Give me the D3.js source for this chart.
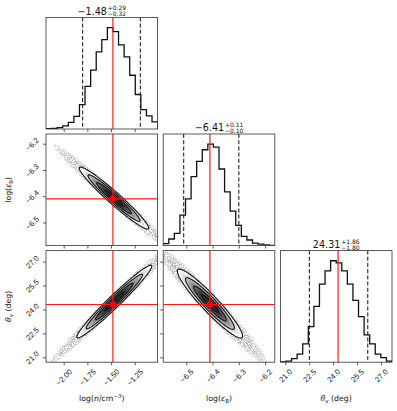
<!DOCTYPE html>
<html><head><meta charset="utf-8">
<script src="https://cdn.jsdelivr.net/npm/d3@7"></script>
<style>
html,body{margin:0;padding:0;background:#fff;}
svg{display:block;font-family:"DejaVu Sans",sans-serif;}
</style></head><body>
<svg id="chart" width="397" height="411"></svg>
<script>
// ---------------- data ----------------
const paramNames = ["logn", "logeps", "theta"];
const axisRanges = [[-2.187, -1.008], [-6.588, -6.163], [20.693, 27.69]];
const tickValues = [[-2.00, -1.75, -1.50, -1.25], [-6.5, -6.4, -6.3, -6.2], [21.0, 22.5, 24.0, 25.5, 27.0]];
const tickLabels = [["−2.00", "−1.75", "−1.50", "−1.25"], ["−6.5", "−6.4", "−6.3", "−6.2"], ["21.0", "22.5", "24.0", "25.5", "27.0"]];
const histLogN   = [0.003, 0.006, 0.013, 0.03, 0.065, 0.125, 0.24, 0.42, 0.58, 0.76, 0.88, 1.0, 0.96, 0.83, 0.71, 0.53, 0.34, 0.19, 0.13, 0.07];
const histLogEps = [0.02, 0.065, 0.12, 0.3, 0.46, 0.68, 0.83, 0.945, 1.0, 0.97, 0.755, 0.53, 0.34, 0.2, 0.09, 0.055, 0.025, 0.015, 0.008, 0.003];
const histTheta  = [0.003, 0.01, 0.035, 0.08, 0.18, 0.35, 0.55, 0.77, 0.9, 1.0, 0.98, 0.9, 0.77, 0.61, 0.45, 0.27, 0.18, 0.08, 0.045, 0.01];
const medianLabels = ["−1.48", "−6.41", "24.31"];
const errPlus  = ["+0.29", "+0.11", "+1.86"];
const errMinus = ["−0.32", "−0.10", "−1.80"];
const truths = [-1.48, -6.41, 24.31];
const q16 = [-1.80, -6.51, 22.51];
const q84 = [-1.19, -6.30, 26.17];
// 2D panels (row param, column param)
const pairRows = [1, 2, 2];
const pairCols = [0, 0, 1];
const pairCenterX = [-1.469, -1.465, -6.410];
const pairCenterY = [-6.407, 24.50, 24.37];
const pairScaleX = [0.183, 0.198, 0.062];
const pairScaleY = [0.059, 1.14, 1.08];
const pairCorr = [-0.966, 0.974, -0.94];
const pairHaloCorr = [-0.985, 0.988, -0.972];
const contourLevels = [0.5, 1.0, 1.5, 2.0];
const haloLevels = [3.5, 3.0, 2.5];

// ---------------- layout ----------------
const svg = d3.select("#chart");
const colX = [46, 163.2, 280.4];
const rowY = [17.4, 134, 250.6];
const P = 111.6;
const spine = "#333";
const tickFont = 7.6;
const hists = [histLogN, histLogEps, histTheta];

const xS = axisRanges.map((r, i) => d3.scaleLinear().domain(r).range([colX[i], colX[i] + P]));
const yS = axisRanges.map((r, i) => d3.scaleLinear().domain(r).range([rowY[i] + P, rowY[i]]));

const defs = svg.append("defs");
const flt = defs.append("filter").attr("id", "speckle").attr("x", "-10%").attr("y", "-10%").attr("width", "120%").attr("height", "120%");
flt.append("feTurbulence").attr("type", "fractalNoise").attr("baseFrequency", 0.9).attr("numOctaves", 2).attr("seed", 5).attr("result", "n");
flt.append("feColorMatrix").attr("in", "n").attr("type", "matrix")
  .attr("values", "0 0 0 0 0.42  0 0 0 0 0.42  0 0 0 0 0.42  0 0 0 7 -2.8").attr("result", "dots");
flt.append("feComposite").attr("in", "dots").attr("in2", "SourceGraphic").attr("operator", "in");

function clipFor(id, x, y) {
  defs.append("clipPath").attr("id", id).append("rect").attr("x", x).attr("y", y).attr("width", P).attr("height", P);
  return "url(#" + id + ")";
}

function styleAxis(g) {
  g.select(".domain").remove();
  g.selectAll(".tick line").attr("stroke", spine).attr("stroke-width", 0.8);
  g.selectAll(".tick text").attr("fill", "#111").attr("font-size", tickFont);
}
function rotateXLabels(g) {
  g.selectAll(".tick text").each(function () {
    const t = d3.select(this);
    const w = this.getComputedTextLength();
    const b = (w + tickFont) / Math.SQRT2;
    t.attr("x", 0).attr("y", 0).attr("dy", null).attr("text-anchor", "middle")
     .attr("dominant-baseline", "central")
     .attr("transform", `translate(0,${3 + 2.7 + b / 2}) rotate(-45)`);
  });
}
function rotateYLabels(g) {
  g.selectAll(".tick text").each(function () {
    const t = d3.select(this);
    const w = this.getComputedTextLength();
    const b = (w + tickFont) / Math.SQRT2;
    t.attr("x", 0).attr("y", 0).attr("dy", null).attr("text-anchor", "middle")
     .attr("dominant-baseline", "central")
     .attr("transform", `translate(${-(3 + 2.7 + b / 2)},0) rotate(-45)`);
  });
}

// ---------------- diagonal histograms ----------------
for (let i = 0; i < 3; i++) {
  const xs = xS[i];
  const h = hists[i];
  const [lo, hi] = axisRanges[i];
  const edges = d3.range(h.length + 1).map(k => lo + k * (hi - lo) / h.length);
  const ys = d3.scaleLinear().domain([0, 1.1 * d3.max(h)]).range([rowY[i] + P, rowY[i]]);
  const g = svg.append("g").attr("clip-path", clipFor("ch" + i, colX[i], rowY[i]));
  const pts = [[edges[0], 0]];
  h.forEach((v, k) => { pts.push([edges[k], v]); pts.push([edges[k + 1], v]); });
  pts.push([edges[h.length], 0]);
  g.append("path").attr("d", d3.line().x(d => xs(d[0])).y(d => ys(d[1]))(pts))
    .attr("fill", "none").attr("stroke", "#111").attr("stroke-width", 1.3);
  [q16[i], q84[i]].forEach(q => {
    g.append("line").attr("x1", xs(q)).attr("x2", xs(q)).attr("y1", rowY[i]).attr("y2", rowY[i] + P)
      .attr("stroke", "#222").attr("stroke-width", 1.1).attr("stroke-dasharray", "4,2.2");
  });
  g.append("line").attr("x1", xs(truths[i])).attr("x2", xs(truths[i])).attr("y1", rowY[i]).attr("y2", rowY[i] + P)
    .attr("stroke", "#ff1a1a").attr("stroke-width", 1.2);
  svg.append("rect").attr("x", colX[i]).attr("y", rowY[i]).attr("width", P).attr("height", P)
    .attr("fill", "none").attr("stroke", spine).attr("stroke-width", 0.8);
  const ax = svg.append("g").attr("transform", `translate(0,${rowY[i] + P})`)
    .call(d3.axisBottom(xs).tickValues(tickValues[i]).tickSize(3).tickPadding(2.7)
      .tickFormat((d, k) => i === 2 ? tickLabels[i][k] : ""));
  styleAxis(ax);
  if (i === 2) rotateXLabels(ax);

  // title
  const tg = svg.append("g");
  const base = rowY[i] - 2.6;
  const main = tg.append("text").attr("x", 0).attr("y", base).attr("font-size", 9.6).attr("fill", "#111").text(medianLabels[i]);
  const mw = main.node().getComputedTextLength();
  const sup = tg.append("text").attr("x", mw + 0.8).attr("y", base - 4.4).attr("font-size", 6.0).attr("fill", "#111").text(errPlus[i]);
  const sub = tg.append("text").attr("x", mw + 0.8).attr("y", base + 1.6).attr("font-size", 6.0).attr("fill", "#111").text(errMinus[i]);
  const sw = Math.max(sup.node().getComputedTextLength(), sub.node().getComputedTextLength());
  tg.attr("transform", `translate(${colX[i] + P / 2 - (mw + 0.8 + sw) / 2},0)`);
}

// ---------------- 2D panels ----------------
function ellipse(k, r, rho) {
  const s = Math.sqrt(1 - rho * rho);
  return d3.range(0, 120).map(n => {
    const t = n / 120 * 2 * Math.PI;
    return [pairCenterX[k] + r * pairScaleX[k] * Math.cos(t),
            pairCenterY[k] + r * pairScaleY[k] * (rho * Math.cos(t) + s * Math.sin(t))];
  });
}
function shade(r) {
  const d = Math.exp(-0.5 * r * r), v = (1 - d) / (1 - Math.exp(-2));
  const g = Math.max(0.18, Math.min(1, v * 1.02));
  const c = Math.round(g * 255);
  return `rgb(${c},${c},${c})`;
}
for (let k = 0; k < 3; k++) {
  const r = pairRows[k], c = pairCols[k];
  const xs = xS[c], ys = yS[r];
  const line = d3.line().x(d => xs(d[0])).y(d => ys(d[1])).curve(d3.curveLinearClosed);
  const g = svg.append("g").attr("clip-path", clipFor("cp" + k, colX[c], rowY[r]));
  // scattered samples beyond the outer contour
  const hg = g.append("g").attr("filter", "url(#speckle)");
  haloLevels.forEach(lv => hg.append("path").attr("d", line(ellipse(k, lv, pairHaloCorr[k]))).attr("fill", "#000").attr("fill-opacity", 0.5));
  // density shading
  const rings = d3.range(2.0, 0.05, -0.125);
  rings.forEach(rr => g.append("path").attr("d", line(ellipse(k, rr, pairCorr[k]))).attr("fill", shade(rr - 0.0625)));
  // contours
  contourLevels.forEach(lv => g.append("path").attr("d", line(ellipse(k, lv, pairCorr[k])))
    .attr("fill", "none").attr("stroke", "#111").attr("stroke-width", 1.1));
  // truths
  g.append("line").attr("x1", xs(truths[c])).attr("x2", xs(truths[c])).attr("y1", rowY[r]).attr("y2", rowY[r] + P)
    .attr("stroke", "#ff1a1a").attr("stroke-width", 1.2);
  g.append("line").attr("x1", colX[c]).attr("x2", colX[c] + P).attr("y1", ys(truths[r])).attr("y2", ys(truths[r]))
    .attr("stroke", "#ff1a1a").attr("stroke-width", 1.2);
  g.append("circle").attr("cx", xs(truths[c])).attr("cy", ys(truths[r])).attr("r", 3.3).attr("fill", "#ff0000");
  svg.append("rect").attr("x", colX[c]).attr("y", rowY[r]).attr("width", P).attr("height", P)
    .attr("fill", "none").attr("stroke", spine).attr("stroke-width", 0.8);
  const axb = svg.append("g").attr("transform", `translate(0,${rowY[r] + P})`)
    .call(d3.axisBottom(xs).tickValues(tickValues[c]).tickSize(3).tickPadding(2.7)
      .tickFormat((d, n) => r === 2 ? tickLabels[c][n] : ""));
  styleAxis(axb);
  if (r === 2) rotateXLabels(axb);
  const axl = svg.append("g").attr("transform", `translate(${colX[c]},0)`)
    .call(d3.axisLeft(ys).tickValues(tickValues[r]).tickSize(3).tickPadding(2.7)
      .tickFormat((d, n) => c === 0 ? tickLabels[r][n] : ""));
  styleAxis(axl);
  if (c === 0) rotateYLabels(axl);
}

// ---------------- axis labels ----------------
const labelFont = 7.8;
function mathText(g, parts) {
  const t = g.append("text").attr("font-size", labelFont).attr("fill", "#111").attr("text-anchor", "middle");
  let shift = 0;
  parts.forEach(p => {
    const ts = t.append("tspan").text(p.t);
    let target = 0;
    if (p.s === "sup") { target = -3; ts.attr("font-size", labelFont * 0.7); }
    if (p.s === "sub") { target = 1.8; ts.attr("font-size", labelFont * 0.7); }
    if (p.s === "i") ts.attr("font-style", "italic");
    if (target !== shift) { ts.attr("dy", target - shift); shift = target; }
  });
  return t;
}
const labelParts = [
  [{t: "log("}, {t: "n", s: "i"}, {t: "/cm"}, {t: "−3", s: "sup"}, {t: ")"}],
  [{t: "log("}, {t: "ε", s: "i"}, {t: "B", s: "sub"}, {t: ")"}],
  [{t: "θ", s: "i"}, {t: "v", s: "sub"}, {t: " (deg)"}]
];
for (let i = 0; i < 3; i++) {
  const g = svg.append("g").attr("transform", `translate(${colX[i] + P / 2},401)`);
  mathText(g, labelParts[i]);
}
for (let i = 1; i < 3; i++) {
  const g = svg.append("g").attr("transform", `translate(11,${rowY[i] + P / 2}) rotate(-90)`);
  mathText(g, labelParts[i]);
}
</script>
</body></html>
